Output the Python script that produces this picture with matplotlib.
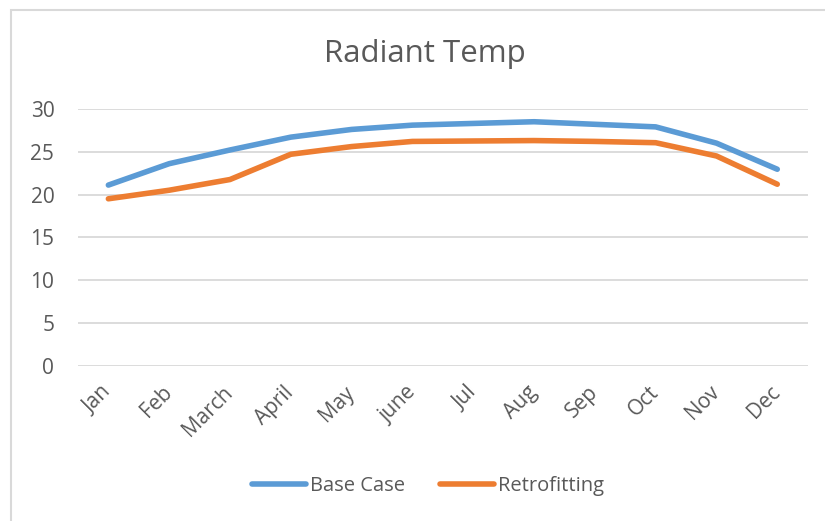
import matplotlib
matplotlib.use('Agg')
import matplotlib.pyplot as plt
from matplotlib.patches import Rectangle

plt.rcParams['font.family'] = ['Open Sans', 'DejaVu Sans']

months = ['Jan', 'Feb', 'March', 'April', 'May', 'june', 'Jul', 'Aug', 'Sep', 'Oct', 'Nov', 'Dec']
base_case = [21.1, 23.6, 25.2, 26.7, 27.6, 28.1, 28.3, 28.5, 28.2, 27.9, 26.0, 22.95]
retrofitting = [19.5, 20.5, 21.75, 24.7, 25.6, 26.2, 26.25, 26.3, 26.2, 26.05, 24.5, 21.2]

text_col = '#595959'
grid_col = '#d9d9d9'

fig = plt.figure(figsize=(8.25, 5.21), dpi=100)
ax = fig.add_axes([0.0945, 0.298, 0.8845, 0.493])

# chart-area border (only top and left visible in the crop)
fig.patches.append(Rectangle((11 / 825, -0.1), 1.2, 1 - 10 / 521 + 0.1,
                             transform=fig.transFigure, fill=False,
                             edgecolor='#d9d9d9', linewidth=1.5))

x = range(len(months))
ax.plot(x, base_case, color='#5b9bd5', linewidth=4, solid_capstyle='round', label='Base Case')
ax.plot(x, retrofitting, color='#ed7d31', linewidth=4, solid_capstyle='round', label='Retrofitting')

ax.set_xlim(-0.5, len(months) - 0.5)
ax.set_ylim(0, 30)
ax.set_yticks(range(0, 31, 5))
ax.yaxis.grid(True, color=grid_col, linewidth=1.3)
ax.set_axisbelow(True)
for s in ax.spines.values():
    s.set_visible(False)
ax.tick_params(axis='both', length=0, labelsize=15, labelcolor=text_col)
ax.tick_params(axis='y', pad=17)
ax.set_xticks(list(x))
ax.set_xticklabels(months, rotation=45, ha='right', va='center', rotation_mode='anchor')
ax.tick_params(axis='x', pad=17)

fig.text(424.5 / 825, 1 - 54 / 521, 'Radiant Temp', fontsize=22.5, color=text_col,
         ha='center', va='center')

fig.legend(loc='center', bbox_to_anchor=(428 / 825, 1 - 486 / 521), ncol=2, frameon=False,
           fontsize=14.5, labelcolor=text_col, handlelength=2.7, handletextpad=0.2,
           columnspacing=1.7)

fig.savefig('out.png', dpi=100)
